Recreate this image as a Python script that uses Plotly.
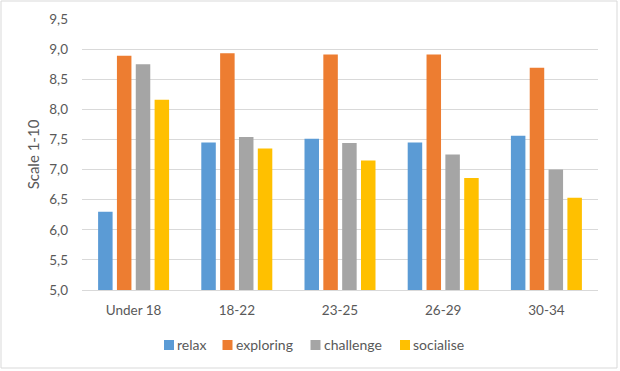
import plotly.graph_objects as go

categories = ["Under 18", "18-22", "23-25", "26-29", "30-34"]
relax = [6.30, 7.45, 7.51, 7.45, 7.56]
exploring = [8.89, 8.93, 8.91, 8.91, 8.69]
challenge = [8.75, 7.54, 7.44, 7.25, 7.00]
socialise = [8.16, 7.35, 7.15, 6.86, 6.53]
y_ticks = [5.0, 5.5, 6.0, 6.5, 7.0, 7.5, 8.0, 8.5, 9.0, 9.5]
y_tick_labels = ["5,0", "5,5", "6,0", "6,5", "7,0", "7,5", "8,0", "8,5", "9,0", "9,5"]

series_names = ["relax", "exploring", "challenge", "socialise"]
series_values = [relax, exploring, challenge, socialise]
series_colors = ["#5B9BD5", "#ED7D31", "#A5A5A5", "#FFC000"]

W, H = 620, 371
ml, mr, mt, mb = 82, 22, 19, 81
pw, ph = W - ml - mr, H - mt - mb


def px_x(px):
    return (px - ml) / pw


def px_y(py):
    return (mt + ph - py) / ph


fig = go.Figure()
for name, vals, col in zip(series_names, series_values, series_colors):
    fig.add_trace(go.Bar(x=categories, y=[v - 5.0 for v in vals], base=5.0, name=name,
                         marker=dict(color=col, line=dict(width=0)), showlegend=False))

# custom legend (Excel-style: small square right next to the label)
legend_square_x = [164, 222.5, 310.5, 400]
shapes = [dict(type="rect", xref="paper", yref="paper",
               x0=px_x(1), x1=px_x(W - 3), y0=px_y(H - 3), y1=px_y(1),
               line=dict(color="#D9D9D9", width=1), fillcolor="rgba(0,0,0,0)", layer="below")]
annotations = []
for name, col, sx in zip(series_names, series_colors, legend_square_x):
    shapes.append(dict(type="rect", xref="paper", yref="paper",
                       x0=px_x(sx), x1=px_x(sx + 10), y0=px_y(350), y1=px_y(340),
                       line=dict(width=0), fillcolor=col))
    annotations.append(dict(text=name, xref="paper", yref="paper", x=px_x(sx + 11),
                            y=px_y(344), xanchor="left", yanchor="middle", showarrow=False,
                            font=dict(size=14, color="#595959")))

fig.update_layout(
    width=W, height=H,
    margin=dict(l=ml, r=mr, t=mt, b=mb, autoexpand=False),
    paper_bgcolor="white", plot_bgcolor="white",
    barmode="group", bargap=0.27, bargroupgap=0.23,
    font=dict(family="Lato, Open Sans, sans-serif", size=13.5, color="#595959"),
    showlegend=False,
    xaxis=dict(showgrid=False, showline=True, linecolor="#D9D9D9", linewidth=1,
               ticks="", ticklabelstandoff=8, automargin=False,
               tickfont=dict(size=13.5, color="#595959")),
    yaxis=dict(range=[5.0, 9.5], tickvals=y_ticks, ticktext=y_tick_labels,
               showgrid=True, gridcolor="#D9D9D9", gridwidth=1, zeroline=False,
               showline=False, ticks="", ticklabelstandoff=13, automargin=False,
               tickfont=dict(size=13.5, color="#595959"),
               title=dict(text="Scale 1-10", font=dict(size=15, color="#595959"), standoff=6)),
    shapes=shapes,
    annotations=annotations,
)

fig.write_html("out.html", config={"displayModeBar": False},
               post_script="document.body.style.margin='0';document.body.style.overflow='hidden';")
